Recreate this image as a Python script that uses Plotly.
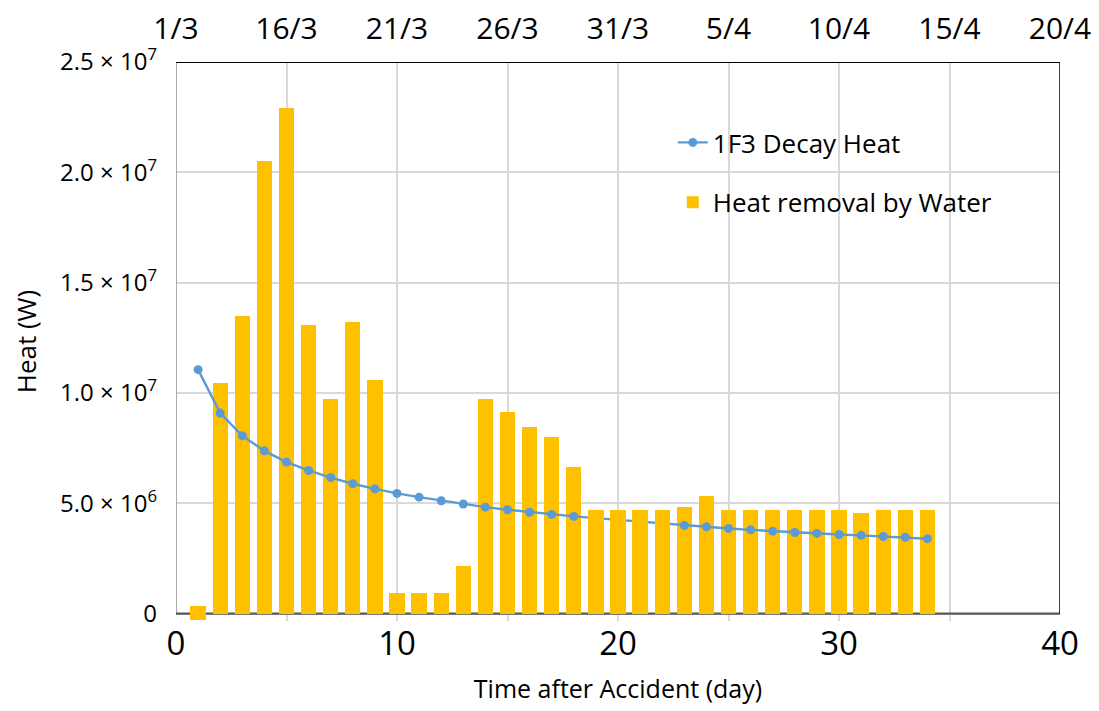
"""Decay heat vs. heat removal by water injection, unit 1F3."""

import plotly.graph_objects as go

# --- data -------------------------------------------------------------
days = list(range(1, 35))

decay_heat = [
    11.06e6, 9.09e6, 8.06e6, 7.38e6, 6.87e6, 6.49e6, 6.17e6, 5.89e6, 5.66e6,
    5.45e6, 5.28e6, 5.12e6, 4.97e6, 4.83e6, 4.71e6, 4.60e6, 4.50e6, 4.41e6,
    4.33e6, 4.25e6, 4.16e6, 4.08e6, 4.00e6, 3.94e6, 3.86e6, 3.80e6, 3.74e6,
    3.68e6, 3.64e6, 3.59e6, 3.55e6, 3.50e6, 3.46e6, 3.40e6,
]

# bar tops and bottoms (day 1 straddles the zero line)
water_high = [
    0.36e6, 10.46e6, 13.5e6, 20.5e6, 22.9e6, 13.1e6, 9.74e6, 13.2e6, 10.6e6,
    0.95e6, 0.95e6, 0.95e6, 2.14e6, 9.72e6, 9.12e6, 8.47e6, 8.03e6, 6.64e6,
    4.71e6, 4.71e6, 4.71e6, 4.71e6, 4.85e6, 5.34e6, 4.71e6, 4.71e6, 4.71e6,
    4.71e6, 4.71e6, 4.71e6, 4.57e6, 4.71e6, 4.71e6, 4.71e6,
]
water_low = [-0.30e6] + [0.0] * 33

# days whose bars sit in front of the decay-heat line
front_days = [19, 20, 21, 22]

x_ticks = [0, 10, 20, 30, 40]
date_ticks = [0, 5, 10, 15, 20, 25, 30, 35, 40]
date_labels = ["1/3", "16/3", "21/3", "26/3", "31/3", "5/4", "10/4", "15/4", "20/4"]
y_ticks = [0, 5e6, 1e7, 1.5e7, 2e7, 2.5e7]
y_labels = [
    "0",
    "5.0 × 10<sup>6</sup>",
    "1.0 × 10<sup>7</sup>",
    "1.5 × 10<sup>7</sup>",
    "2.0 × 10<sup>7</sup>",
    "2.5 × 10<sup>7</sup>",
]

# --- styling ----------------------------------------------------------
FONT = "Open Sans"
BAR = "#FFC000"
LINE = "#5B9BD5"
GRID = "#D9D9D9"

bar_height = [hi - lo for hi, lo in zip(water_high, water_low)]
idx = [days.index(d) for d in front_days]

fig = go.Figure()
fig.add_trace(
    go.Bar(
        x=days,
        y=bar_height,
        base=water_low,
        width=0.69,
        marker={"color": BAR, "line": {"width": 0}},
        name="Heat removal by Water",
        legendgroup="water",
        legendrank=2,
    )
)
fig.add_trace(
    go.Scatter(
        x=days,
        y=decay_heat,
        mode="lines+markers",
        line={"color": LINE, "width": 2.4},
        marker={"color": LINE, "size": 9},
        name="1F3 Decay Heat",
        legendgroup="decay",
        legendrank=1,
    )
)
# these bars go on the overlaying axis so they are drawn above the line
fig.add_trace(
    go.Bar(
        x=front_days,
        y=[bar_height[i] for i in idx],
        base=[water_low[i] for i in idx],
        width=0.69,
        xaxis="x2",
        marker={"color": BAR, "line": {"width": 0}},
        showlegend=False,
        hoverinfo="skip",
    )
)

frame = [
    # left axis (grey), bottom axis (dark grey), top + right border (black)
    dict(x0=0, x1=0, y0=0, y1=2.5e7, color="#8C8C8C", width=1.5),
    dict(x0=0, x1=40, y0=0, y1=0, color="#595959", width=2.2),
    dict(x0=0, x1=40, y0=2.5e7, y1=2.5e7, color="#000000", width=2),
    dict(x0=40, x1=40, y0=0, y1=2.5e7, color="#000000", width=1.5),
]
for f in frame:
    fig.add_shape(
        type="line", xref="x", yref="y", layer="between",
        x0=f["x0"], x1=f["x1"], y0=f["y0"], y1=f["y1"],
        line={"color": f["color"], "width": f["width"]},
    )

# the page body adds an 8px offset, so the figure is sized to fit the window
fig.update_layout(
    width=1091,
    height=703,
    margin={"l": 168, "r": 39, "t": 54, "b": 90, "autoexpand": False},
    plot_bgcolor="white",
    paper_bgcolor="white",
    font={"family": FONT, "color": "#000000"},
    barmode="overlay",
    bargap=0,
    legend={
        "x": 0.562,
        "y": 0.898,
        "xanchor": "left",
        "yanchor": "top",
        "font": {"size": 26, "family": FONT},
        "bgcolor": "rgba(0,0,0,0)",
        "traceorder": "grouped",
        "tracegroupgap": 23,
        "itemwidth": 30,
    },
    xaxis={
        "range": [0, 40],
        "tickvals": x_ticks,
        "tickfont": {"size": 33},
        "showgrid": False,
        "zeroline": False,
        "showline": False,
        "ticks": "",
        "automargin": False,
        "title": {"text": "Time after Accident (day)", "font": {"size": 25}, "standoff": 16},
    },
    xaxis2={
        "range": [0, 40],
        "overlaying": "x",
        "side": "top",
        "tickvals": date_ticks,
        "ticktext": date_labels,
        "tickfont": {"size": 30},
        "showgrid": True,
        "gridcolor": GRID,
        "gridwidth": 1.5,
        "zeroline": False,
        "showline": False,
        "ticks": "",
        "ticklabelstandoff": 16,
        "automargin": False,
    },
    yaxis={
        "range": [-0.33e6, 2.5e7],
        "tickvals": y_ticks,
        "ticktext": y_labels,
        "tickfont": {"size": 24},
        "showgrid": True,
        "gridcolor": GRID,
        "gridwidth": 1.5,
        "zeroline": False,
        "showline": False,
        "ticks": "",
        "ticklabelstandoff": 18,
        "automargin": False,
        "title": {"text": "Heat (W)", "font": {"size": 26}, "standoff": 18},
    },
)

fig.write_html("out.html")
